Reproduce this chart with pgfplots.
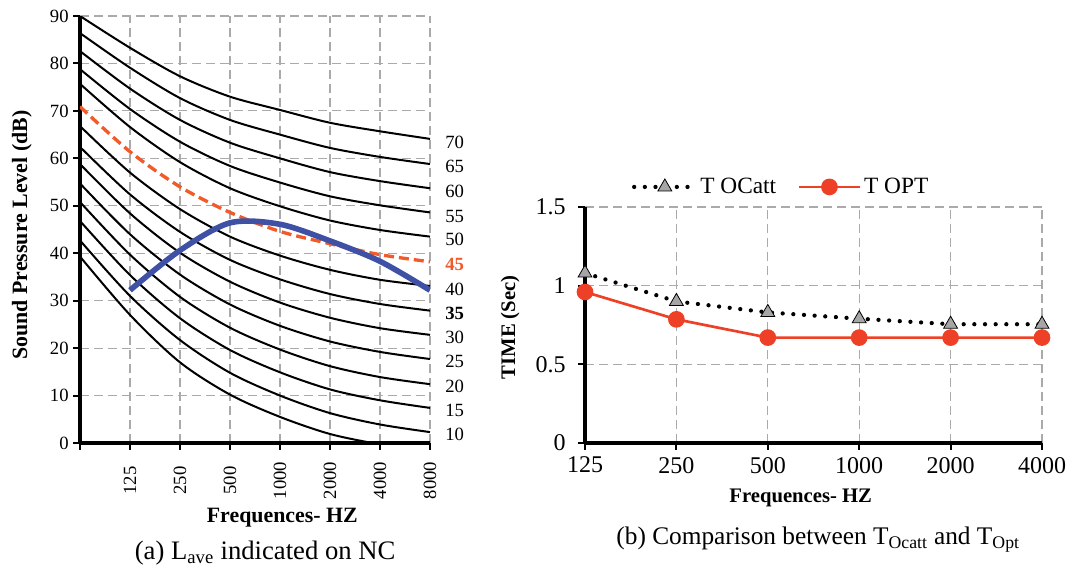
\documentclass[border=0pt]{standalone}
\usepackage{fontspec}
\setmainfont{Liberation Serif}
\usepackage{pgfplots}
\pgfplotsset{compat=1.18}

\definecolor{ncblue}{RGB}{63,81,165}
\definecolor{ncorange}{RGB}{241,90,41}
\definecolor{optred}{RGB}{238,64,38}
\definecolor{gridgray}{RGB}{170,170,170}
\definecolor{trigray}{RGB}{166,166,166}

\pgfplotsset{
  panel/.style={
    scale only axis,
    axis lines=left,
    axis line style={-, line width=2.5pt, black},
    tick align=outside,
    major tick length=5pt,
    tick style={black, line width=1.5pt},
    grid=major,
    grid style={gridgray, line width=0.9pt, dash pattern=on 6.75pt off 3.75pt},
    /pgf/number format/assume math mode=true,
    clip mode=individual,
  },
  nc/.style={black, line width=1.5pt, smooth},
}

\begin{document}
\begin{tikzpicture}
\path[use as bounding box] (-60pt,-96pt) rectangle (742.5pt,332.25pt);

% (a) NC curves
\begin{axis}[panel,
  at={(0pt,0pt)}, anchor=south west,
  width=262.5pt, height=320.25pt,
  xmin=0, xmax=7, ymin=0, ymax=90,
  xtick={0,...,7}, xticklabels={,125,250,500,1000,2000,4000,8000},
  ytick={0,10,...,90},
  tick label style={font=\fontsize{14}{16}\selectfont},
  xticklabel style={yshift=-23pt, rotate=90, anchor=center},
  xlabel={Frequences- HZ},
  ylabel={Sound Pressure Level (dB)},
  xlabel style={font=\fontsize{16.4}{18}\selectfont\bfseries, at={(axis description cs:0.578,-0.176)}, anchor=center},
  ylabel style={font=\fontsize{16.4}{18}\selectfont\bfseries, at={(axis description cs:-0.166,0.487)}, anchor=center},
]
\addplot[nc] coordinates {(0,90.0) (1,83.3) (2,77.3) (3,73.0) (4,70.2) (5,67.5) (6,65.7) (7,64.1)};
\addplot[nc] coordinates {(0,86.4) (1,79.1) (2,72.7) (3,68.1) (4,65.0) (5,62.2) (6,60.3) (7,58.8)};
\addplot[nc] coordinates {(0,82.6) (1,74.7) (2,68.1) (3,63.3) (4,60.0) (5,57.1) (6,55.2) (7,53.7)};
\addplot[nc] coordinates {(0,78.8) (1,70.4) (2,63.5) (3,58.4) (4,54.9) (5,52.0) (6,50.1) (7,48.6)};
\addplot[nc] coordinates {(0,75.7) (1,66.6) (2,59.2) (3,53.7) (4,49.9) (5,46.9) (6,44.9) (7,43.5)};
\addplot[nc] coordinates {(0,66.8) (1,57.0) (2,49.3) (3,43.5) (4,39.5) (5,36.5) (6,34.4) (7,33.1)};
\addplot[nc] coordinates {(0,62.4) (1,52.4) (2,44.5) (3,38.6) (4,34.5) (5,31.4) (6,29.3) (7,27.9)};
\addplot[nc] coordinates {(0,58.8) (1,48.4) (2,40.1) (3,34.0) (4,29.6) (5,26.4) (6,24.2) (7,22.8)};
\addplot[nc] coordinates {(0,54.7) (1,44.0) (2,35.5) (3,29.2) (4,24.7) (5,21.4) (6,19.2) (7,17.7)};
\addplot[nc] coordinates {(0,50.8) (1,39.7) (2,30.8) (3,24.3) (4,19.7) (5,16.2) (6,13.9) (7,12.4)};
\addplot[nc] coordinates {(0,46.8) (1,35.4) (2,26.3) (3,19.6) (4,14.9) (5,11.3) (6,9.0) (7,7.4)};
\addplot[nc] coordinates {(0,42.7) (1,31.0) (2,21.7) (3,14.8) (4,10.0) (5,6.3) (6,3.9) (7,2.3)};
\addplot[nc] coordinates {(0,39.3) (1,27.0) (2,17.0) (3,10.2) (4,5.5) (5,1.9) (6,-0.3) (7,-2.0)};
% NC-45 (dashed)
\addplot[ncorange, line width=2.5pt, smooth, dash pattern=on 7.5pt off 3.75pt]
  coordinates {(0,70.9) (1,61.4) (2,54.0) (3,48.6) (4,44.6) (5,42.0) (6,39.7) (7,38.2)};
% L_ave
\addplot[ncblue, line width=4.2pt, smooth]
  coordinates {(1,32.2) (2,40.6) (3,46.4) (4,46.1) (5,42.6) (6,38.3) (7,32.2)};

\begin{scope}[every node/.style={anchor=west, inner sep=0pt, xshift=11.25pt, font=\fontsize{14}{16}\selectfont}]
\node at (axis cs:7,63.4) {70};
\node at (axis cs:7,58.2) {65};
\node at (axis cs:7,53.0) {60};
\node at (axis cs:7,47.8) {55};
\node at (axis cs:7,42.9) {50};
\node[text=ncorange, font=\fontsize{14}{16}\selectfont\bfseries] at (axis cs:7,37.6) {45};
\node at (axis cs:7,32.3) {40};
\node[font=\fontsize{14}{16}\selectfont\bfseries] at (axis cs:7,27.3) {35};
\node at (axis cs:7,22.2) {30};
\node at (axis cs:7,17.1) {25};
\node at (axis cs:7,12.0) {20};
\node at (axis cs:7,6.8) {15};
\node at (axis cs:7,1.75) {10};
\end{scope}
\node[font=\fontsize{20}{22}\selectfont, anchor=center] at (axis description cs:0.529,-0.258)
  {(a) L\textsubscript{ave} indicated on NC};
\end{axis}

% (b) reverberation time
\begin{axis}[panel,
  at={(378.75pt,0pt)}, anchor=south west,
  width=342.75pt, height=177pt,
  xmin=0, xmax=5, ymin=0, ymax=1.5,
  xtick={0,...,5}, xticklabels={125,250,500,1000,2000,4000},
  ytick={0,0.5,1,1.5},
  clip=false,
  tick label style={font=\fontsize{18}{20}\selectfont},
  xticklabel style={yshift=-2pt},
  yticklabel style={xshift=-6pt},
  xlabel={Frequences- HZ},
  ylabel={TIME (Sec)},
  xlabel style={font=\fontsize{15.5}{18}\selectfont\bfseries, at={(axis description cs:0.472,-0.233)}, anchor=center},
  ylabel style={font=\fontsize{15.5}{18}\selectfont\bfseries, at={(axis description cs:-0.164,0.49)}, anchor=center},
  legend style={draw=none, fill=none, at={(axis description cs:0.43,1.085)}, anchor=center,
    legend columns=2, font=\fontsize{17.5}{20}\selectfont,
    /tikz/every even column/.append style={column sep=14pt}},
  legend image code/.code={\draw[mark repeat=2, mark phase=2] plot coordinates {(0pt,0pt) (23pt,0pt) (46pt,0pt)};},
]
\addplot[black, line width=3.2pt, line cap=round, dash pattern=on 0pt off 8pt,
  mark=triangle*, mark size=6pt, mark options={solid, fill=trigray, draw=black, line width=0.6pt}]
  coordinates {(0,1.08) (1,0.90) (2,0.83) (3,0.79) (4,0.755) (5,0.755)};
\addlegendentry{T OCatt}
\addplot[optred, line width=2pt, mark=*, mark size=5.25pt, mark options={solid, fill=optred, draw=optred}]
  coordinates {(0,0.96) (1,0.786) (2,0.67) (3,0.67) (4,0.67) (5,0.67)};
\addlegendentry{T OPT}
\node[font=\fontsize{19}{21}\selectfont, anchor=center] at (axis description cs:0.51,-0.411)
  {(b) Comparison between T\textsubscript{Ocatt} and T\textsubscript{Opt}};
\end{axis}
\end{tikzpicture}
\end{document}
